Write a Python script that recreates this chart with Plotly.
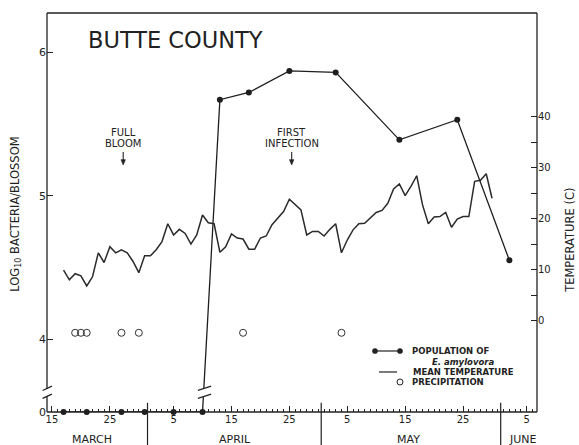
import plotly.graph_objects as go

# ---------------- data (days counted from 1 March: 32 = 1 Apr, 62 = 1 May, 93 = 1 Jun) -------------
pop_days = [17, 21, 27, 31, 36, 41, 44, 49, 56, 64, 75, 85, 94]
pop_log10 = [0, 0, 0, 0, 0, 0, 5.67, 5.72, 5.87, 5.86, 5.39, 5.53, 4.55]

temp_first_day = 17
temp_c = [9.9, 8.0, 9.2, 8.8, 6.8, 8.6, 13.3, 11.4, 14.5, 13.3,
          13.9, 13.3, 11.6, 9.4, 12.7, 12.7, 13.9, 15.5, 19.0, 16.8,
          17.9, 17.1, 15.0, 16.8, 20.7, 19.2, 19.0, 13.4, 14.5, 17.0,
          16.2, 16.0, 14.0, 14.0, 16.2, 16.6, 18.8, 20.1, 21.4, 23.8,
          22.7, 21.7, 16.8, 17.5, 17.5, 16.6, 17.9, 19.0, 13.3, 15.8,
          17.8, 19.0, 19.1, 20.1, 21.2, 21.6, 23.0, 25.8, 26.8, 24.5,
          26.3, 28.4, 22.7, 19.0, 20.3, 20.4, 21.2, 18.3, 19.9, 20.4,
          20.4, 27.3, 27.5, 28.8, 24.0]
temp_days = [temp_first_day + i for i in range(len(temp_c))]

precip_days = [19, 20, 21, 27, 30, 48, 65]

x_tick_days = [15, 25, 36, 46, 56, 66, 76, 86, 97]
x_tick_labels = ["15", "25", "5", "15", "25", "5", "15", "25", "5"]
month_names = ["MARCH", "APRIL", "MAY", "JUNE"]
month_label_days = [21.9, 46.6, 76.5, 96.3]
month_boundaries = [31.5, 61.5, 92.5]

left_tick_vals = [4, 5, 6]
temp_tick_vals = [0, 10, 20, 30, 40]
temp_minor_vals = [5, 15, 25, 35]

full_bloom_day = 27.3
first_infection_day = 56.4

# ---------------- scales ----------------
X_RANGE = [14.14, 98.77]
Y_ZERO = 3.493           # broken left axis: log10 = 0 is drawn at the bottom
Y_RANGE = [Y_ZERO, 6.274]
T_RANGE = [-17.9, 60.3]
PRECIP_Y = 4.045
BRK_LO, BRK_HI = 3.60, 3.655

INK = "#222222"
FONT = "DejaVu Sans"

pop_display = [v if v > 0 else Y_ZERO for v in pop_log10]

fig = go.Figure()
fig.add_trace(go.Scatter(x=temp_days, y=temp_c, yaxis="y2", mode="lines",
                         line=dict(color="#2b2b2b", width=1.5), showlegend=False))
fig.add_trace(go.Scatter(x=pop_days, y=pop_display, mode="lines+markers",
                         line=dict(color="#1e1e1e", width=1.3),
                         marker=dict(size=6, color="#1e1e1e"),
                         cliponaxis=False, showlegend=False))
fig.add_trace(go.Scatter(x=precip_days, y=[PRECIP_Y] * len(precip_days), mode="markers",
                         marker=dict(symbol="circle-open", size=7, color="#333333",
                                     line=dict(width=1)),
                         showlegend=False))

shapes = []
lw = 1.3
# frame
shapes.append(dict(type="line", xref="paper", yref="paper", x0=0, x1=1, y0=1, y1=1, line=dict(color=INK, width=lw)))
shapes.append(dict(type="line", xref="paper", yref="paper", x0=0, x1=1, y0=0, y1=0, line=dict(color=INK, width=lw)))
shapes.append(dict(type="line", xref="paper", yref="paper", x0=1, x1=1, y0=0, y1=1, line=dict(color=INK, width=lw)))
shapes.append(dict(type="line", xref="paper", yref="y", x0=0, x1=0, y0=BRK_HI, y1=Y_RANGE[1], line=dict(color=INK, width=lw)))
shapes.append(dict(type="line", xref="paper", yref="y", x0=0, x1=0, y0=Y_ZERO, y1=BRK_LO, line=dict(color=INK, width=lw)))
# axis break marks
for y0 in (BRK_LO - 0.012, BRK_HI - 0.012):
    shapes.append(dict(type="line", xref="paper", yref="y", x0=-0.009, x1=0.010,
                       y0=y0, y1=y0 + 0.03, line=dict(color=INK, width=lw)))
# break on the population line
shapes.append(dict(type="rect", xref="x", yref="y", x0=40.4, x1=42.2, y0=BRK_LO, y1=BRK_HI,
                   fillcolor="white", line=dict(width=0), layer="above"))
for y0 in (BRK_LO - 0.012, BRK_HI - 0.012):
    shapes.append(dict(type="line", xref="x", yref="y", x0=40.2, x1=42.5,
                       y0=y0, y1=y0 + 0.03, line=dict(color=INK, width=lw), layer="above"))
# month dividers
for b in month_boundaries:
    shapes.append(dict(type="line", xref="x", yref="paper", x0=b, x1=b, y0=0.023, y1=-0.085,
                       line=dict(color=INK, width=1.2)))
# event arrows (small downward arrows under the labels)
for d in (full_bloom_day, first_infection_day):
    shapes.append(dict(type="line", xref="x", yref="y", x0=d, x1=d, y0=5.305, y1=5.24,
                       line=dict(color=INK, width=1.1)))
    shapes.append(dict(type="path", xref="x", yref="y",
                       path=f"M {d - 0.38},{5.252} L {d + 0.38},{5.252} L {d},{5.215} Z",
                       fillcolor=INK, line=dict(color=INK, width=0.6)))

# legend (drawn by hand)
leg_y = [0.1529, 0.1253, 0.1003, 0.0752]
dx, dy = 2.6 / 490, 2.6 / 399
shapes.append(dict(type="line", xref="paper", yref="paper", x0=0.6694, x1=0.7204,
                   y0=leg_y[0], y1=leg_y[0], line=dict(color=INK, width=1.2)))
for cx in (0.6694, 0.7204):
    shapes.append(dict(type="circle", xref="paper", yref="paper", x0=cx - dx, x1=cx + dx,
                       y0=leg_y[0] - dy, y1=leg_y[0] + dy, fillcolor=INK, line=dict(color=INK, width=0.5)))
shapes.append(dict(type="line", xref="paper", yref="paper", x0=0.6776, x1=0.7143,
                   y0=leg_y[2], y1=leg_y[2], line=dict(color=INK, width=1.2)))
r = 3.0
shapes.append(dict(type="circle", xref="paper", yref="paper", x0=0.7204 - r / 490, x1=0.7204 + r / 490,
                   y0=leg_y[3] - r / 399, y1=leg_y[3] + r / 399, line=dict(color=INK, width=1)))

ann = []
def text(x, y, s, size, xref="paper", yref="paper", xanchor="center", angle=0, weight="normal", style="normal"):
    ann.append(dict(x=x, y=y, xref=xref, yref=yref, text=s,
                    showarrow=False, xanchor=xanchor, yanchor="middle", textangle=angle,
                    font=dict(family=FONT, size=size, color=INK, weight=weight, style=style)))

text(0.263, 0.932, "BUTTE COUNTY", 22.5)
text(full_bloom_day, 5.441, "FULL", 10, xref="x", yref="y")
text(full_bloom_day, 5.361, "BLOOM", 10, xref="x", yref="y")
text(first_infection_day, 5.441, "FIRST", 10, xref="x", yref="y")
text(first_infection_day, 5.361, "INFECTION", 10, xref="x", yref="y")
for name, d in zip(month_names, month_label_days):
    text(d, -0.068, name, 11, xref="x")
text(-0.066, 0.496, "LOG<sub>10</sub> BACTERIA/BLOSSOM", 11.5, angle=-90)
text(1.067, 0.431, "TEMPERATURE (C)", 11.5, angle=-90)
text(0.7408, leg_y[0], "POPULATION OF", 8.5, xanchor="left", weight="bold")
text(0.7816, leg_y[1], "E. amylovora", 8.5, xanchor="left", weight="bold", style="italic")
text(0.7429, leg_y[2], "MEAN TEMPERATURE", 8.5, xanchor="left", weight="bold")
text(0.7408, leg_y[3], "PRECIPITATION", 8.5, xanchor="left", weight="bold")

fig.update_layout(
    width=579, height=445,
    margin=dict(l=47, r=42, t=13, b=33),
    paper_bgcolor="white", plot_bgcolor="white",
    font=dict(family=FONT, color=INK),
    xaxis=dict(range=X_RANGE, tickmode="array", tickvals=x_tick_days, ticktext=x_tick_labels,
               ticks="inside", ticklen=6, tickwidth=1, tickcolor=INK,
               minor=dict(tickmode="linear", tick0=0, dtick=1, ticks="inside", ticklen=3,
                          tickwidth=1, tickcolor=INK, showgrid=False),
               showgrid=False, zeroline=False, showline=False,
               tickfont=dict(family=FONT, size=10, color=INK)),
    yaxis=dict(range=Y_RANGE, tickmode="array", tickvals=[Y_ZERO] + left_tick_vals,
               ticktext=["0"] + [str(v) for v in left_tick_vals],
               ticks="inside", ticklen=6, tickwidth=1, tickcolor=INK,
               showgrid=False, zeroline=False, showline=False,
               tickfont=dict(family=FONT, size=11, color=INK)),
    yaxis2=dict(range=T_RANGE, overlaying="y", side="right", tickmode="array",
                tickvals=temp_tick_vals, ticktext=[str(v) for v in temp_tick_vals],
                ticks="inside", ticklen=6, tickwidth=1, tickcolor=INK,
                minor=dict(tickmode="array", tickvals=temp_minor_vals, ticks="inside",
                           ticklen=6, tickwidth=1, tickcolor=INK, showgrid=False),
                showgrid=False, zeroline=False, showline=False,
                tickfont=dict(family=FONT, size=10, color=INK)),
    shapes=shapes, annotations=ann,
)

fig.write_html("out.html")
